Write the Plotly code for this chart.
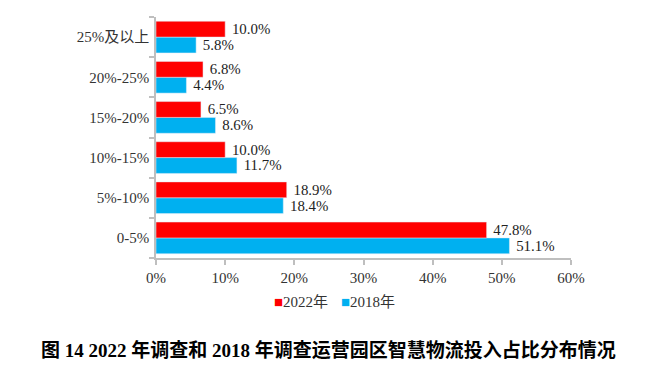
import plotly.graph_objects as go

categories = ["0-5%", "5%-10%", "10%-15%", "15%-20%", "20%-25%", "25%及以上"]
values_2022 = [47.8, 18.9, 10.0, 6.5, 6.8, 10.0]
values_2018 = [51.1, 18.4, 11.7, 8.6, 4.4, 5.8]
tick_vals = [0, 10, 20, 30, 40, 50, 60]
tick_text = ["0%", "10%", "20%", "30%", "40%", "50%", "60%"]
title_text = "图 14 2022 年调查和 2018 年调查运营园区智慧物流投入占比分布情况"
series_names = ["2022年", "2018年"]
series_colors = ["#FF0000", "#00B0F0"]

serif = "Liberation Serif, Times New Roman, serif"
serif_cjk = serif + ", Noto Sans CJK SC"
label_font = dict(family=serif, size=15, color="#222222")

# page body has an 8px margin; figure placed at (8, 8)
OFF = 8
W, H = 660 - OFF, 374 - OFF
L, R, T, B = 156 - OFF, 89, 17 - OFF, 116
pw, ph = W - L - R, H - T - B


def px_x(x):
    return (x - OFF - L) / pw


def px_y(y):
    return (H - B - (y - OFF)) / ph


fig = go.Figure()
fig.add_trace(go.Bar(
    y=categories, x=values_2018, name=series_names[1], orientation="h",
    marker=dict(color=series_colors[1]), showlegend=False,
    text=["\u00a0" + f"{v:.1f}%" for v in values_2018], textposition="outside",
    textfont=label_font, cliponaxis=False,
))
fig.add_trace(go.Bar(
    y=categories, x=values_2022, name=series_names[0], orientation="h",
    marker=dict(color=series_colors[0]), showlegend=False,
    text=["\u00a0" + f"{v:.1f}%" for v in values_2022], textposition="outside",
    textfont=label_font, cliponaxis=False,
))

legend_items = [
    dict(x=px_x(301), name=series_names[0], color=series_colors[0]),
    dict(x=px_x(368), name=series_names[1], color=series_colors[1]),
]
annotations = []
for it in legend_items:
    annotations.append(dict(
        text=f"<span style='color:{it['color']}'>■</span>{it['name']}",
        xref="paper", yref="paper", x=it["x"], y=px_y(302),
        xanchor="center", yanchor="middle", showarrow=False,
        font=dict(family=serif_cjk, size=15, color="#333333")))
annotations.append(dict(
    text="<b>" + title_text + "</b>", xref="paper", yref="paper",
    x=px_x(328), y=px_y(350),
    xanchor="center", yanchor="middle", showarrow=False,
    font=dict(family=serif_cjk, size=19, color="#000000")))

fig.update_layout(
    width=W, height=H,
    margin=dict(l=L, r=R, t=T, b=B, autoexpand=False),
    barmode="group", bargap=0.21, bargroupgap=0,
    plot_bgcolor="white", paper_bgcolor="white",
    font=dict(family=serif, size=15, color="#333333"),
    showlegend=False,
    xaxis=dict(range=[0, 60], tickvals=tick_vals, ticktext=tick_text,
               showgrid=False, zeroline=False, showline=True, automargin=False,
               linecolor="#BFBFBF", linewidth=1.5, ticks="outside",
               tickcolor="#BFBFBF", ticklen=5, tickwidth=1.5,
               tickfont=dict(family=serif, size=15, color="#333333")),
    yaxis=dict(categoryorder="array", categoryarray=categories, automargin=False,
               showgrid=False, showline=True, linecolor="#BFBFBF", linewidth=1.5,
               ticks="outside", tickson="boundaries", tickcolor="#BFBFBF",
               ticklen=5, tickwidth=1.5, ticklabelstandoff=2,
               tickfont=dict(family=serif_cjk, size=15, color="#333333")),
    annotations=annotations,
)

fig.write_html("out.html")
